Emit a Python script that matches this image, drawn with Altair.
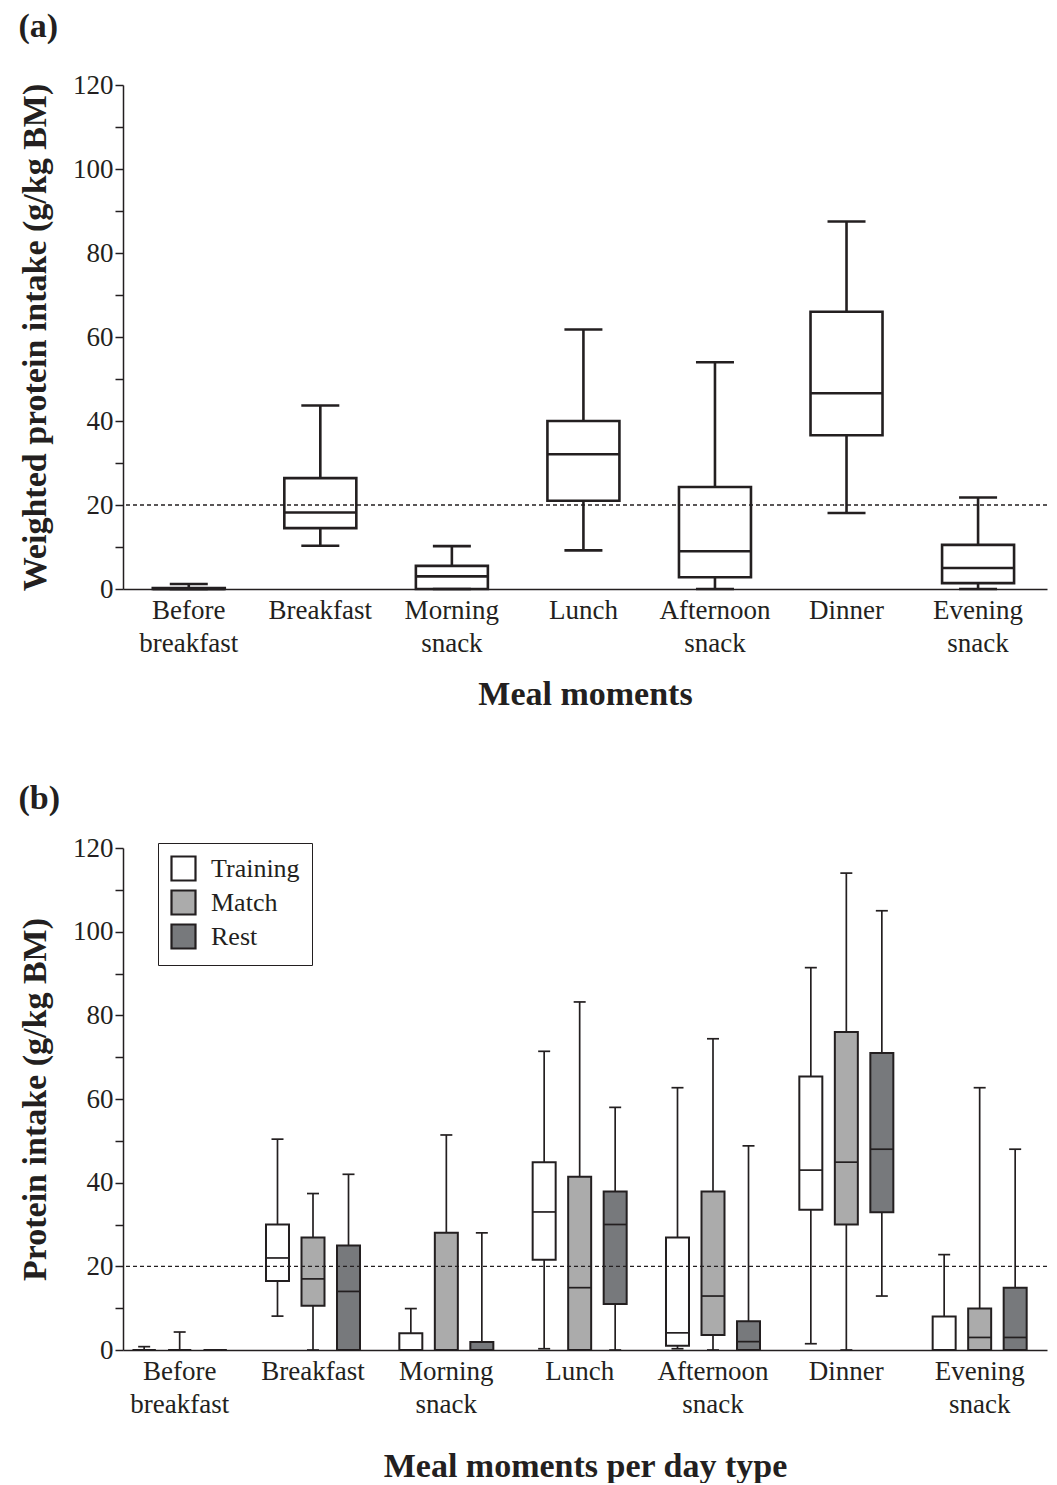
import altair as alt
import pandas as pd

# ---------------- data ----------------
meals = ["Before breakfast", "Breakfast", "Morning snack", "Lunch",
         "Afternoon snack", "Dinner", "Evening snack"]

# Panel (a): weighted protein intake per meal moment (box-plot statistics)
a_min = [0.0, 10.3, 0.0, 9.2, 0.0, 18.1, 0.0]
a_q1 = [0.0, 14.5, 0.0, 21.0, 2.8, 36.6, 1.4]
a_med = [0.0, 18.2, 3.0, 32.1, 9.0, 46.6, 5.0]
a_q3 = [0.2, 26.4, 5.5, 40.0, 24.3, 66.0, 10.5]
a_max = [1.2, 43.7, 10.2, 61.8, 54.0, 87.5, 21.8]

# Panel (b): protein intake per meal moment per day type
day_types = ["Training", "Match", "Rest"]
b_min = {"Training": [0.0, 8.1, 0.0, 0.3, 0.3, 1.5, 0.0],
         "Match":    [0.0, 0.0, 0.0, 0.0, 0.0, 0.0, 0.0],
         "Rest":     [0.0, 0.0, 0.0, 0.0, 0.0, 12.9, 0.0]}
b_q1 = {"Training": [0.0, 16.5, 0.0, 21.6, 1.0, 33.5, 0.0],
        "Match":    [0.0, 10.6, 0.0, 0.0, 3.6, 30.0, 0.0],
        "Rest":     [0.0, 0.0, 0.0, 11.0, 0.0, 32.9, 0.0]}
b_med = {"Training": [0.0, 22.0, 0.0, 33.0, 4.1, 43.0, 0.0],
         "Match":    [0.0, 17.0, 0.0, 14.9, 12.9, 44.9, 3.0],
         "Rest":     [0.0, 14.0, 0.0, 30.0, 2.0, 48.0, 3.0]}
b_q3 = {"Training": [0.0, 30.0, 4.0, 44.9, 26.9, 65.4, 8.0],
        "Match":    [0.0, 26.9, 28.0, 41.4, 37.9, 76.0, 9.9],
        "Rest":     [0.0, 25.0, 1.9, 37.9, 6.9, 71.0, 14.9]}
b_max = {"Training": [0.8, 50.4, 9.9, 71.4, 62.7, 91.4, 22.8],
         "Match":    [4.3, 37.4, 51.4, 83.2, 74.4, 114.0, 62.7],
         "Rest":     [0.0, 42.0, 28.0, 58.0, 48.8, 105.0, 48.0]}

day_fills = ["#ffffff", "#ababab", "#77797c"]
reference_line = [20]
y_ticks = list(range(0, 121, 10))

# ---------------- tables ----------------
df_a = pd.DataFrame({"meal": meals, "lo": a_min, "q1": a_q1, "med": a_med,
                     "q3": a_q3, "hi": a_max})
rows = []
for d in day_types:
    for i, m in enumerate(meals):
        rows.append({"meal": m, "day": d, "lo": b_min[d][i], "q1": b_q1[d][i],
                     "med": b_med[d][i], "q3": b_q3[d][i], "hi": b_max[d][i]})
df_b = pd.DataFrame(rows)
df_ref = pd.DataFrame({"ref": reference_line})

FONT = "Liberation Serif"
INK = "#231f20"


def y_axis(title):
    return alt.Axis(title=title, values=y_ticks,
                    labelExpr="datum.value % 20 == 0 ? datum.label : ''",
                    tickSize=8, tickWidth=1.5, tickColor=INK,
                    domainColor=INK, domainWidth=1.5, grid=False,
                    labelFont=FONT, labelFontSize=27, labelColor=INK,
                    labelPadding=2, labelOverlap=False,
                    titleFont=FONT, titleFontSize=34, titleFontWeight="bold",
                    titleColor=INK, titlePadding=20)


def x_axis(title, tpad):
    return alt.Axis(title=title, labelExpr="split(datum.label, ' ')",
                    labelAngle=0, ticks=False, labelFont=FONT,
                    labelFontSize=27, labelLineHeight=33, labelPadding=8,
                    labelColor=INK, labelOverlap=False, labelLimit=0,
                    labelBaseline="top",
                    domainColor=INK, domainWidth=1.5,
                    titleFont=FONT, titleFontSize=34, titleFontWeight="bold",
                    titleColor=INK, titlePadding=tpad)


yscale = alt.Scale(domain=[0, 120], nice=False)
PW = 924

# ---------------- panel (a) ----------------
base_a = alt.Chart(df_a).encode(
    x=alt.X("meal:N", sort=meals,
            scale=alt.Scale(paddingInner=0, paddingOuter=0.012, align=0),
            axis=x_axis("Meal moments", 21)))
LW_A = 2.6
wl_a = base_a.mark_rule(color=INK, strokeWidth=LW_A).encode(
    y=alt.Y("lo:Q", scale=yscale,
            axis=y_axis("Weighted protein intake (g/kg BM)")),
    y2="q1:Q")
wh_a = base_a.mark_rule(color=INK, strokeWidth=LW_A).encode(y="q3:Q", y2="hi:Q")
box_a = base_a.mark_bar(width=72, fill="white", stroke=INK,
                        strokeWidth=LW_A).encode(y="q1:Q", y2="q3:Q")
med_a = base_a.mark_tick(size=72, thickness=LW_A, color=INK, opacity=1).encode(y="med:Q")
cl_a = base_a.mark_tick(size=38, thickness=LW_A, color=INK, opacity=1).encode(y="lo:Q")
ch_a = base_a.mark_tick(size=38, thickness=LW_A, color=INK, opacity=1).encode(y="hi:Q")
ref_a = alt.Chart(df_ref).mark_rule(color=INK, strokeWidth=1.4,
                                     strokeDash=[4, 3]).encode(y="ref:Q")

panel_a = alt.layer(wl_a, wh_a, box_a, med_a, cl_a, ch_a, ref_a).properties(
    width=PW, height=504,
    title=alt.Title("(a)", anchor="start", frame="bounds", font=FONT,
                    fontSize=34, fontWeight="bold", color=INK, offset=27))

# ---------------- panel (b) ----------------
base_b = alt.Chart(df_b).encode(
    x=alt.X("meal:N", sort=meals,
            scale=alt.Scale(paddingInner=0.15, paddingOuter=0.04, align=0),
            axis=x_axis("Meal moments per day type", 32)),
    xOffset=alt.XOffset("day:N", sort=day_types,
                        scale=alt.Scale(paddingInner=0, paddingOuter=0.096)))
LW_B = 1.7
wl_b = base_b.mark_rule(color=INK, strokeWidth=LW_B).encode(
    y=alt.Y("lo:Q", scale=yscale, axis=y_axis("Protein intake (g/kg BM)")),
    y2="q1:Q")
wh_b = base_b.mark_rule(color=INK, strokeWidth=LW_B).encode(y="q3:Q", y2="hi:Q")
box_b = base_b.mark_bar(width=23, stroke=INK, strokeWidth=LW_B + 0.3,
                        opacity=1).encode(
    y="q1:Q", y2="q3:Q",
    fill=alt.Fill("day:N", sort=day_types,
                  scale=alt.Scale(domain=day_types, range=day_fills),
                  legend=alt.Legend(title=None, orient="none", legendX=35,
                                    legendY=-5, strokeColor=INK,
                                    fillColor="white", padding=12,
                                    symbolType="square", symbolSize=576,
                                    symbolStrokeColor=INK,
                                    symbolStrokeWidth=2.2, symbolOpacity=1,
                                    labelFont=FONT, labelFontSize=26,
                                    labelColor=INK, labelOffset=14,
                                    rowPadding=1)))
med_b = base_b.mark_tick(size=23, thickness=LW_B, color=INK, opacity=1).encode(y="med:Q")
cl_b = base_b.mark_tick(size=12, thickness=LW_B, color=INK, opacity=1).encode(y="lo:Q")
ch_b = base_b.mark_tick(size=12, thickness=LW_B, color=INK, opacity=1).encode(y="hi:Q")
ref_b = alt.Chart(df_ref).mark_rule(color=INK, strokeWidth=1.4,
                                     strokeDash=[4, 3]).encode(y="ref:Q")

panel_b = alt.layer(wl_b, wh_b, box_b, med_b, cl_b, ch_b, ref_b).properties(
    width=PW, height=502,
    title=alt.Title("(b)", anchor="start", frame="bounds", font=FONT,
                    fontSize=34, fontWeight="bold", color=INK, offset=18))

chart = alt.vconcat(panel_a, panel_b, spacing=71).resolve_scale(
    fill="independent"
).resolve_legend(fill="independent").properties(
    padding={"left": 10, "top": 2, "right": 0, "bottom": 0}
).configure(font=FONT, background="white").configure_view(
    strokeWidth=0, stroke="transparent")

chart.save("out.html", embed_options={"renderer": "svg", "actions": False})
